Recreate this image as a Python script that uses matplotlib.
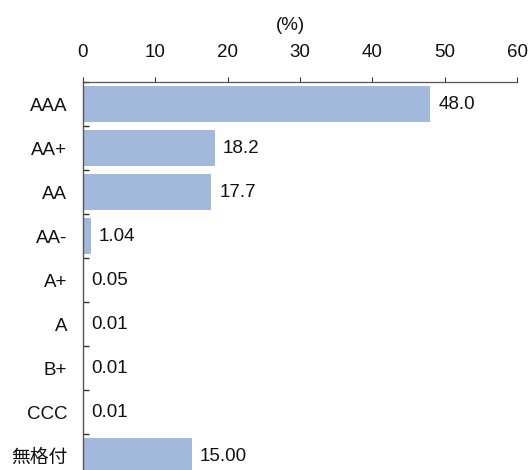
import matplotlib
matplotlib.use("Agg")
import matplotlib.pyplot as plt
from matplotlib.ticker import FixedLocator

plt.rcParams['font.family'] = ['Liberation Sans', 'Noto Sans CJK JP']

categories = ["AAA", "AA+", "AA", "AA-", "A+", "A", "B+", "CCC", "無格付"]
values = [48.0, 18.2, 17.7, 1.04, 0.05, 0.01, 0.01, 0.01, 15.00]
value_labels = ["48.0", "18.2", "17.7", "1.04", "0.05", "0.01", "0.01", "0.01", "15.00"]
x_ticks = [0, 10, 20, 30, 40, 50, 60]

FS = 13.5

fig = plt.figure(figsize=(5.29, 4.70), dpi=100)
ax = fig.add_axes([83/529, 0, 434/529, 388/470])

y = list(range(len(categories)))
ax.barh(y, values, height=0.83, color="#A3B9DB", zorder=2)

for yi, v, lab in zip(y, values, value_labels):
    ax.annotate(lab, xy=(v, yi), xytext=(6.0, 0), textcoords="offset points",
                va="center", ha="left", fontsize=FS, color="#111111")

ax.set_xlim(0, 60)
ax.set_ylim(8.31, -0.5)
ax.xaxis.tick_top()
ax.set_xticks(x_ticks)
ax.tick_params(axis='x', direction='out', length=3.6, width=0.8, pad=11.5,
               labelsize=FS, colors="#333333", labelcolor="#111111")
ax.set_yticks(y)
ax.set_yticklabels(categories)
ax.tick_params(axis='y', which='major', length=0, pad=11.5, labelsize=FS, labelcolor="#111111")
ax.yaxis.set_minor_locator(FixedLocator([k - 0.5 for k in range(len(categories))]))
ax.tick_params(axis='y', which='minor', direction='in', length=4.5, width=1.0, color="#333333")

for s in ["right", "bottom"]:
    ax.spines[s].set_visible(False)
ax.spines["top"].set_color("#555555")
ax.spines["left"].set_color("#555555")
ax.spines["top"].set_linewidth(0.9)
ax.spines["left"].set_linewidth(1.0)

fig.text(290/529, 1 - 26/470, "(%)", ha="center", va="center", fontsize=FS, color="#111111")

fig.savefig("out.png", dpi=100)
